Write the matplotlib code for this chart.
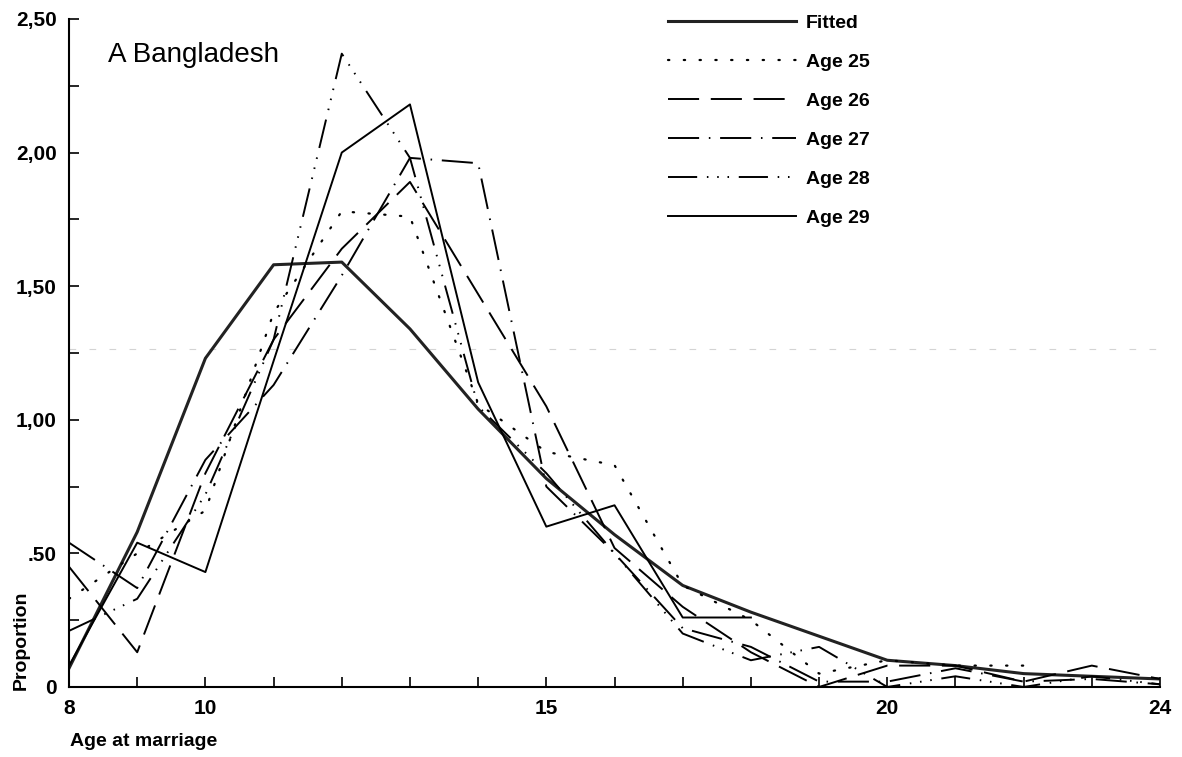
import matplotlib
matplotlib.use("Agg")
import matplotlib.pyplot as plt

plt.rcParams['font.family'] = ['Liberation Sans', 'DejaVu Sans']

ages = list(range(8, 25))

fitted = [0.07, 0.58, 1.23, 1.58, 1.59, 1.34, 1.04, 0.78, 0.57, 0.38, 0.28, 0.19, 0.10, 0.08, 0.05, 0.04, 0.03]
age25 = [0.33, 0.50, 0.66, 1.40, 1.78, 1.76, 1.06, 0.88, 0.83, 0.38, 0.25, 0.05, 0.10, 0.08, 0.08]
age26 = [0.45, 0.13, 0.80, 1.30, 1.64, 1.89, 1.47, 1.05, 0.52, 0.30, 0.13, 0.00, 0.08, 0.08, 0.02, 0.08, 0.03]
age27 = [0.54, 0.37, 0.85, 1.13, 1.54, 1.98, 1.96, 0.75, 0.50, 0.22, 0.15, 0.02, 0.02, 0.07, 0.02, 0.03, 0.01]
age28 = [0.21, 0.33, 0.72, 1.30, 2.37, 1.98, 1.05, 0.80, 0.50, 0.20, 0.10, 0.15, 0.00, 0.04, 0.00, 0.04, 0.01]
age29 = [0.08, 0.54, 0.43, 1.22, 2.00, 2.18, 1.14, 0.60, 0.68, 0.26, 0.26]

y_ticks = [0, 0.5, 1.0, 1.5, 2.0, 2.5]
y_labels = ["0", ".50", "1,00", "1,50", "2,00", "2,50"]
x_ticks = [8, 10, 15, 20, 24]

fig = plt.figure(figsize=(11.82, 7.57), dpi=100)
ax = fig.add_axes([0.0584, 0.0925, 0.923, 0.8825])

lw = 1.4
series = [
    ("Fitted", fitted, dict(lw=2.2, ls="-", color="#222222")),
    ("Age 25", age25, dict(lw=1.6, ls=(0, (0.6, 6.5)), dash_capstyle="round")),
    ("Age 26", age26, dict(lw=lw, ls=(0, (16, 6)))),
    ("Age 27", age27, dict(lw=lw, ls=(0, (16, 5, 0.8, 5)))),
    ("Age 28", age28, dict(lw=lw, ls=(0, (15, 5, 0.8, 4.5, 0.8, 4.5, 0.8, 5)))),
    ("Age 29", age29, dict(lw=lw, ls="-")),
]
for name, vals, style in series:
    style.setdefault("color", "black")
    ax.plot(ages[:len(vals)], vals, label=name, **style)

# faint scan streak across the plot
ax.axhline(1.265, color="#d4d4d4", lw=0.8, ls=(0, (6, 12)), zorder=0)

ax.set_xlim(8, 24)
ax.set_ylim(0, 2.5)
for s in ["top", "right"]:
    ax.spines[s].set_visible(False)
for s in ["left", "bottom"]:
    ax.spines[s].set_linewidth(1.5)

ax.set_xticks(ages, minor=True)
ax.set_xticks(x_ticks)
ax.set_xticklabels([str(t) for t in x_ticks])
ax.set_yticks([0.25, 0.75, 1.25, 1.75, 2.25], minor=True)
ax.set_yticks(y_ticks)
ax.set_yticklabels(y_labels)
ax.tick_params(axis="both", which="both", direction="in", length=7, width=1.2,
               labelsize=15)
ax.tick_params(axis="y", which="major", pad=9)
ax.tick_params(axis="x", which="major", pad=9)
for lab in ax.get_xticklabels() + ax.get_yticklabels():
    lab.set_fontweight("bold")

ax.text(0.036, 0.935, "A Bangladesh", transform=ax.transAxes, fontsize=20)

leg = ax.legend(loc="upper left", bbox_to_anchor=(0.533, 1.033), frameon=False,
                handlelength=6.6, handletextpad=0.5, labelspacing=1.1,
                prop=dict(size=14, weight="bold"))

fig.text(0.011, 0.089, "Proportion", rotation=90, ha="left", va="bottom",
         fontsize=14, fontweight="bold")
fig.text(0.059, 0.021, "Age at marriage", ha="left", va="center",
         fontsize=14, fontweight="bold")

fig.savefig("out.png", dpi=100)
